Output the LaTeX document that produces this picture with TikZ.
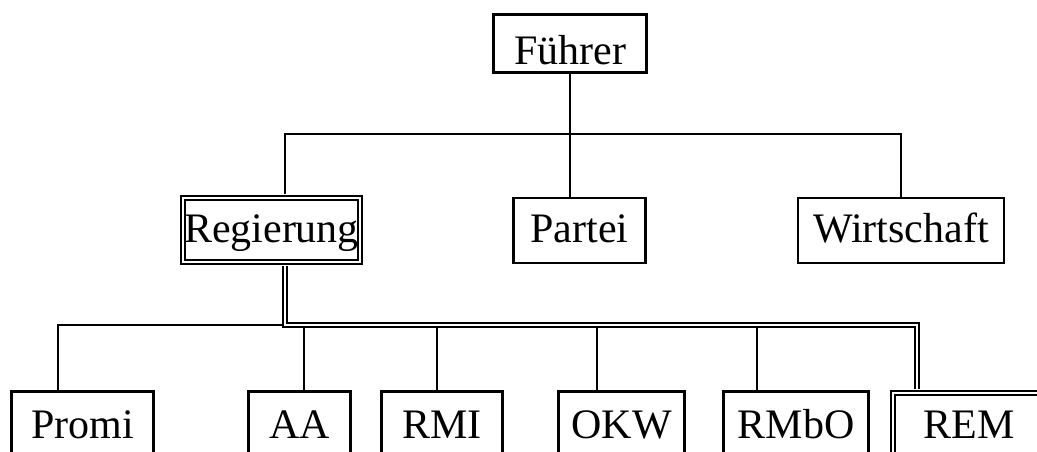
\documentclass[tikz,border=0pt]{standalone}
\usepackage{fontspec}
\setmainfont{Liberation Serif}
\tikzset{
  amt/.style={draw, line width=2.5pt, inner sep=0pt, anchor=north, font=\fontsize{42}{50}\selectfont},
  amtdoppel/.style={amt, line width=2pt, double, double distance=2pt},
  leitung/.style={line width=2.5pt},
  doppelleitung/.style={line width=2pt, double, double distance=2pt}
}
\begin{document}
\begin{tikzpicture}[x=1pt, y=-1pt]
  \useasboundingbox (0,0) rectangle (1037,452);
  \clip (0,0) rectangle (1037,452);
  % Spitze
  \node[amt, minimum width=153pt, text height=49.5pt, text depth=8.5pt] (fuehrer) at (570,13.5) {Führer};
  % zweite Ebene
  \node[amtdoppel, minimum width=177pt, text height=44pt, text depth=20pt] (regierung) at (271.5,197) {Regierung};
  \node[amt, minimum width=132pt, text height=45pt, text depth=20pt] (partei) at (579.5,196.5) {Partei};
  \node[amt, minimum width=206pt, text height=45pt, text depth=20pt] (wirtschaft) at (901,196.5) {Wirtschaft};
  % Ministerien
  \node[amt, minimum width=142pt, text height=47pt, text depth=60pt] (promi) at (82.5,390) {Promi};
  \node[amt, minimum width=102pt, text height=47pt, text depth=60pt] (aa) at (299.5,390) {AA};
  \node[amt, minimum width=121pt, text height=47pt, text depth=60pt] (rmi) at (442,390) {RMI};
  \node[amt, minimum width=126pt, text height=47pt, text depth=60pt] (okw) at (621.5,390) {OKW};
  \node[amt, minimum width=145pt, text height=47pt, text depth=60pt] (rmbo) at (796,390) {RMbO};
  \node[amtdoppel, minimum width=152pt, text height=45pt, text depth=60pt] (rem) at (969,392) {REM};
  % Abzweige
  \coordinate (bus1) at (0,134);
  \coordinate (bus2) at (0,325);
  \coordinate (rstamm) at (285,0);
  \coordinate (d-promi) at (58,0);
  \coordinate (d-aa) at (304,0);
  \coordinate (d-rmi) at (437,0);
  \coordinate (d-okw) at (597,0);
  \coordinate (d-rmbo) at (757,0);
  \coordinate (d-rem) at (917,0);
  \draw[leitung] (fuehrer.south) -- (fuehrer.south |- bus1);
  \draw[leitung, shorten <=3pt] (rstamm |- regierung.north) -- (rstamm |- bus1)
    -- (wirtschaft.north |- bus1) -- (wirtschaft.north);
  \draw[leitung] (fuehrer.south |- bus1) -- (fuehrer.south |- partei.north);
  \foreach \m in {aa, rmi, okw, rmbo}
    \draw[leitung] (d-\m |- bus2) -- (d-\m |- \m.north);
  \draw[leitung] (d-promi |- promi.north) -- (d-promi |- bus2) -- (rstamm |- bus2);
  \draw[doppelleitung, shorten <=3pt, shorten >=3pt] (rstamm |- regierung.south)
    -- (rstamm |- bus2) -- (d-rem |- bus2) -- (d-rem |- rem.north);
\end{tikzpicture}
\end{document}
